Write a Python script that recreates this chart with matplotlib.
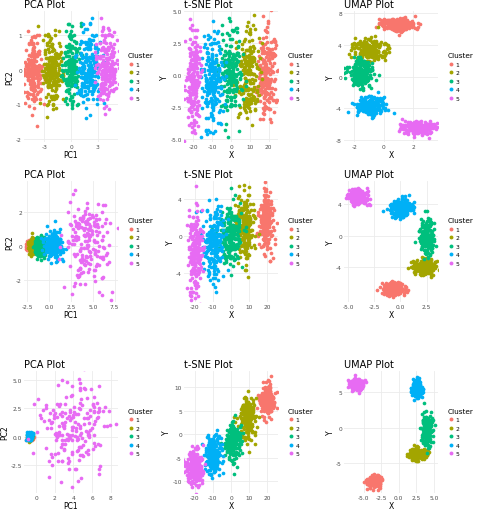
import numpy as np
import matplotlib
matplotlib.use("Agg")
import matplotlib.pyplot as plt
from matplotlib.lines import Line2D

# ggplot hue palette for 5 clusters
COLORS = ["#F8766D", "#A3A500", "#00BF7D", "#00B0F6", "#E76BF3"]
CLUSTERS = ["1", "2", "3", "4", "5"]

# cluster layouts: centre x, centre y, spread x, spread y, count
# row 1
pca1_cx = [-4.2, -2.0, 0.0, 2.0, 4.1]
pca1_cy = [0.0, 0.0, 0.1, 0.0, 0.0]
pca1_sx = [0.55, 0.6, 0.5, 0.6, 0.6]
pca1_sy = [0.5, 0.5, 0.5, 0.5, 0.55]

tsne1_cx = [19.0, 9.0, 0.0, -10.0, -20.0]
tsne1_cy = [0.0, 0.0, 0.0, -0.3, -0.5]
tsne1_sx = [2.5, 3.0, 3.0, 3.0, 1.8]
tsne1_sy = [1.8, 1.8, 1.7, 1.9, 1.9]

umap1_cx = [0.9, -0.9, -1.6, -0.9, 2.3]
umap1_cy = [6.6, 3.4, 0.4, -3.6, -6.4]
umap1_sx = [0.6, 0.55, 0.45, 0.5, 0.55]
umap1_sy = [0.45, 0.7, 0.9, 0.55, 0.4]

# row 2
pca2_cx = [-2.35, -2.0, -1.1, 0.6, 4.4]
pca2_cy = [0.0, 0.0, -0.05, 0.05, 0.0]
pca2_sx = [0.12, 0.2, 0.35, 0.55, 1.3]
pca2_sy = [0.12, 0.2, 0.3, 0.5, 1.3]

tsne2_cx = [19.0, 8.0, 0.0, -10.0, -20.0]
tsne2_cy = [1.5, 1.2, 0.3, -1.0, -1.8]
tsne2_sx = [2.0, 2.5, 3.0, 2.8, 2.0]
tsne2_sy = [1.7, 1.7, 1.7, 2.0, 2.0]

umap2_cx = [-0.7, 2.3, 2.5, 0.0, -4.0]
umap2_cy = [-6.8, -4.0, 0.0, 3.5, 5.0]
umap2_sx = [0.55, 0.55, 0.35, 0.55, 0.45]
umap2_sy = [0.4, 0.5, 1.1, 0.6, 0.45]

# row 3
pca3_cx = [-0.7, -0.7, -0.7, -0.7, 4.0]
pca3_cy = [0.0, 0.0, 0.0, 0.0, 0.2]
pca3_sx = [0.15, 0.15, 0.15, 0.18, 1.9]
pca3_sy = [0.15, 0.15, 0.15, 0.18, 2.3]

tsne3_cx = [20.0, 9.0, 1.0, -10.0, -20.0]
tsne3_cy = [7.5, 3.5, -1.5, -4.5, -7.0]
tsne3_sx = [2.0, 2.3, 2.3, 2.3, 2.3]
tsne3_sy = [1.8, 2.2, 2.0, 2.2, 2.0]

umap3_cx = [-3.6, 2.6, 4.0, 2.6, -6.0]
umap3_cy = [-7.6, -3.7, -0.2, 5.5, 6.1]
umap3_sx = [0.5, 0.6, 0.35, 0.35, 0.55]
umap3_sy = [0.4, 0.4, 1.1, 0.6, 0.4]

counts = [200, 200, 200, 200, 200]
counts_pca3 = [50, 50, 50, 50, 200]

# axis limits and ticks per panel
panels = [
    ("PCA Plot", "PC1", "PC2", pca1_cx, pca1_cy, pca1_sx, pca1_sy, counts,
     (-5.3, 5.3), (-2.1, 1.7), [-3, 0, 3], [-2, -1, 0, 1]),
    ("t-SNE Plot", "X", "Y", tsne1_cx, tsne1_cy, tsne1_sx, tsne1_sy, counts,
     (-25, 25), (-5.2, 5.0), [-20, -10, 0, 10, 20], [-5.0, -2.5, 0.0, 2.5, 5.0]),
    ("UMAP Plot", "X", "Y", umap1_cx, umap1_cy, umap1_sx, umap1_sy, counts,
     (-2.7, 3.7), (-8.2, 8.2), [-2, 0, 2], [-8, -4, 0, 4, 8]),
    ("PCA Plot", "PC1", "PC2", pca2_cx, pca2_cy, pca2_sx, pca2_sy, counts,
     (-2.9, 7.9), (-3.3, 3.8), [-2.5, 0.0, 2.5, 5.0, 7.5], [-2, 0, 2]),
    ("t-SNE Plot", "X", "Y", tsne2_cx, tsne2_cy, tsne2_sx, tsne2_sy, counts,
     (-26, 26), (-7.2, 6.0), [-20, -10, 0, 10, 20], [-4, 0, 4]),
    ("UMAP Plot", "X", "Y", umap2_cx, umap2_cy, umap2_sx, umap2_sy, counts,
     (-5.4, 3.6), (-8.5, 7.0), [-5.0, -2.5, 0.0, 2.5], [-4, 0, 4]),
    ("PCA Plot", "PC1", "PC2", pca3_cx, pca3_cy, pca3_sx, pca3_sy, counts_pca3,
     (-1.3, 8.8), (-5.0, 5.8), [0, 2, 4, 6, 8], [-2.5, 0.0, 2.5, 5.0]),
    ("t-SNE Plot", "X", "Y", tsne3_cx, tsne3_cy, tsne3_sx, tsne3_sy, counts,
     (-26, 26), (-12.5, 13.5), [-20, -10, 0, 10, 20], [-10, -5, 0, 5, 10]),
    ("UMAP Plot", "X", "Y", umap3_cx, umap3_cy, umap3_sx, umap3_sy, counts,
     (-7.8, 5.6), (-9.2, 8.0), [-5.0, -2.5, 0.0, 2.5, 5.0], [-5, 0, 5]),
]

# axes box per row, in pixels: top, bottom
row_box = [(12, 143), (182, 303), (372, 494)]
W, H = 480, 510

rng = np.random.default_rng(7)

fig = plt.figure(figsize=(W / 100, H / 100), dpi=100, facecolor="white")

for i, p in enumerate(panels):
    title, xl, yl, cx, cy, sx, sy, n, xlim, ylim, xt, yt = p
    r, c = divmod(i, 3)
    top, bot = row_box[r]
    left = c * 160 + 24
    right = c * 160 + 118
    ax = fig.add_axes([left / W, 1 - bot / H, (right - left) / W, (bot - top) / H])
    for k in range(5):
        xs = rng.normal(cx[k], sx[k], n[k])
        ys = rng.normal(cy[k], sy[k], n[k])
        ax.scatter(xs, ys, s=7, color=COLORS[k], linewidths=0, zorder=3)
    ax.set_xlim(*xlim)
    ax.set_ylim(*ylim)
    ax.set_xticks(xt)
    ax.set_yticks(yt)
    ax.set_xticklabels([f"{v:g}" if isinstance(v, int) else f"{v:.1f}" for v in xt])
    ax.set_yticklabels([f"{v:g}" if isinstance(v, int) else f"{v:.1f}" for v in yt])
    ax.grid(True, color="#EBEBEB", linewidth=0.6, zorder=0)
    for s in ax.spines.values():
        s.set_visible(False)
    ax.tick_params(length=0, labelsize=4.2, colors="#4D4D4D", pad=1.5)
    ax.set_xlabel(xl, fontsize=5.5, labelpad=1)
    ax.set_ylabel(yl, fontsize=5.5, labelpad=1)
    ax.set_title(title, fontsize=7, loc="left", pad=3)

    handles = [Line2D([], [], marker="o", linestyle="", markersize=2.8,
                      markeredgewidth=0, color=COLORS[k]) for k in range(5)]
    leg = ax.legend(handles, CLUSTERS, title="Cluster", loc="center left",
                    bbox_to_anchor=(1.04, 0.5), frameon=False, fontsize=4.3,
                    title_fontsize=5.3, handletextpad=0.2, labelspacing=0.55,
                    handlelength=1.2)
    leg._legend_box.align = "left"

fig.savefig("out.png", dpi=100, facecolor="white")
